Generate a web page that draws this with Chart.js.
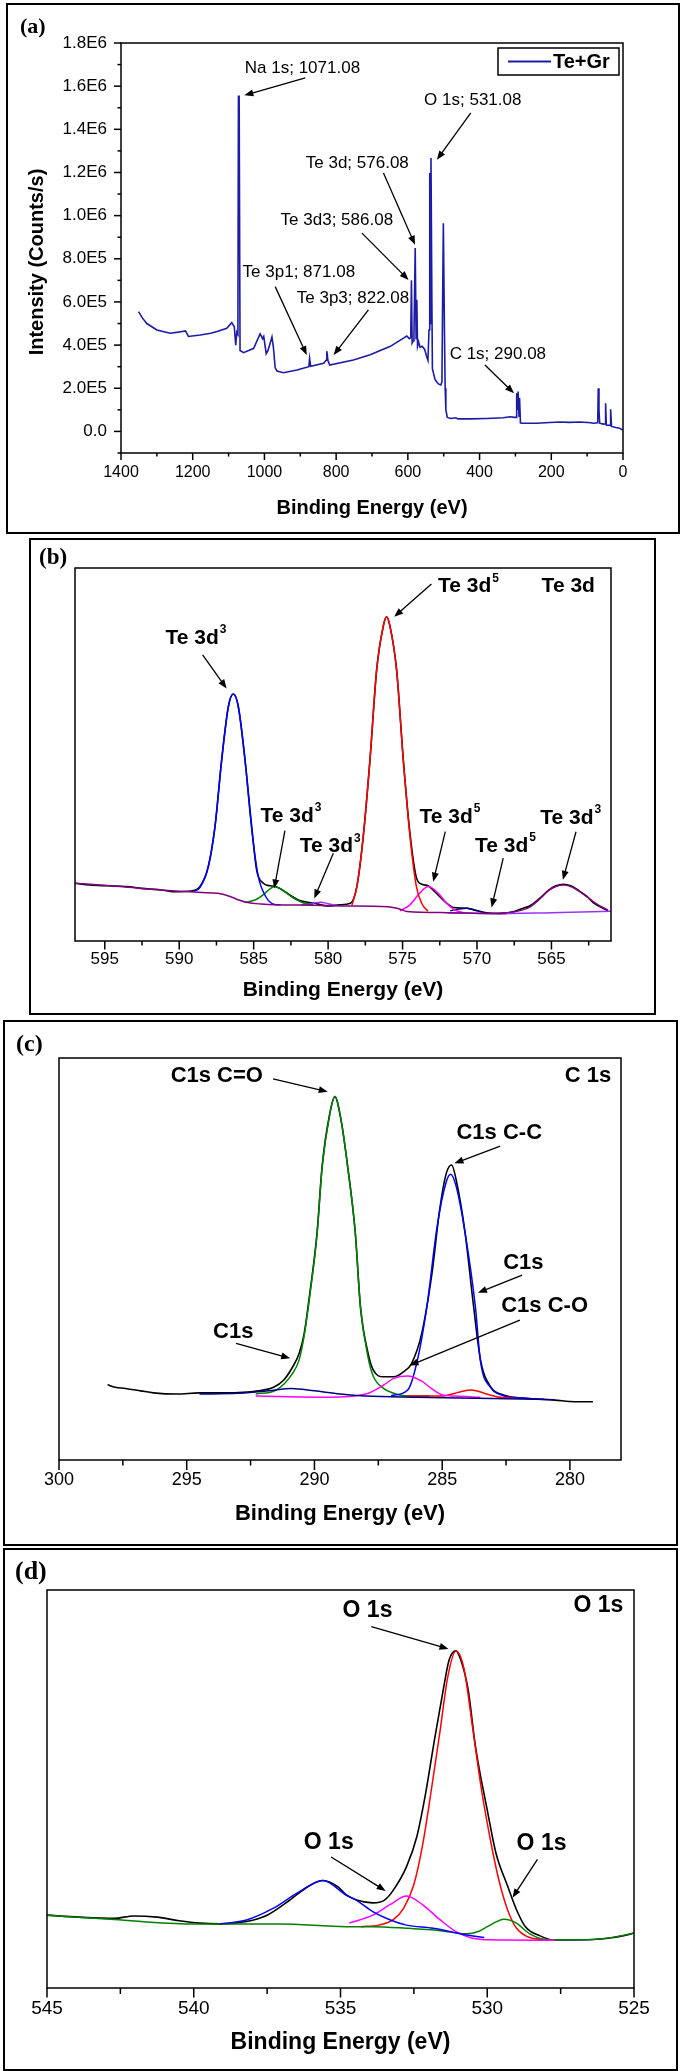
<!DOCTYPE html>
<html>
<head>
<meta charset="utf-8">
<script src="https://cdn.jsdelivr.net/npm/chart.js@4.4.1/dist/chart.umd.min.js"></script>
<style>
body { margin: 0; background: #fff; width: 681px; height: 2071px; position: relative; }
.box { position: absolute; box-sizing: border-box; border: 2px solid #000; }
.box canvas { position: absolute; left: -2px; top: -2px; }
</style>
</head>
<body>
<div class="box" style="left:6px;top:3px;width:674px;height:531px"><canvas id="chartA" width="674" height="531"></canvas></div>
<div class="box" style="left:29px;top:538px;width:627px;height:477px"><canvas id="chartB" width="627" height="477"></canvas></div>
<div class="box" style="left:3px;top:1020px;width:675px;height:526px"><canvas id="chartC" width="675" height="526"></canvas></div>
<div class="box" style="left:3px;top:1548px;width:675px;height:523px"><canvas id="chartD" width="675" height="523"></canvas></div>
<script>
// ---- data: [binding energy (eV), intensity] ----

// (a) survey spectrum, counts/s
const survey = [[1351,555000],[1340,525000],[1328,500000],[1300,470000],[1263,455000],[1240,460000],[1230,463000],[1220,466000],[1212,440000],[1179,447000],[1150,455000],[1132,463000],[1105,478000],[1091,504000],[1084,485000],[1080,400000],[1077,460000],[1074,450000],[1072.5,1553000],[1070.5,1553000],[1068,375000],[1058,365000],[1030,385000],[1012,452000],[1005,430000],[1002,440000],[995,360000],[990,375000],[979,437000],[975,390000],[970,295000],[965,280000],[947,272000],[909,285000],[882,297000],[876,300000],[874,338000],[871,302000],[835,316000],[828,330000],[826,372000],[823,330000],[818,308000],[752,331000],[705,355000],[677,375000],[650,393000],[612,432000],[603,442000],[596,430000],[592,435000],[590,700000],[588,410000],[585,420000],[583,440000],[579.5,850000],[577,430000],[575,610000],[573,395000],[570,415000],[566,390000],[560,395000],[553,380000],[548,350000],[544,330000],[541,470000],[539,1198000],[537.5,500000],[535.5,1267000],[533,600000],[531.5,290000],[524,240000],[515,220000],[508,215000],[505,230000],[503,610000],[501,965000],[499.5,965000],[498,470000],[496,200000],[494,100000],[490,65000],[480,60000],[466,63000],[460,58000],[426,58000],[380,60000],[334,63000],[315,68000],[302,65000],[298,65000],[296.5,177000],[294.5,100000],[292.5,185000],[290,70000],[288.5,155000],[286,40000],[282,38000],[241,38000],[204,41000],[176,44000],[150,42000],[120,44000],[90,40000],[83,38000],[70.5,40000],[69,200000],[67,100000],[65,38000],[55,34000],[50,35000],[48.5,130000],[46.5,30000],[36,28000],[34.5,103000],[32,23000],[20,18000],[10,15000],[3,8000],[0,10000]];
const surveyXTicks = [1400, 1200, 1000, 800, 600, 400, 200, 0];
const surveyYTicks = [0, 200000, 400000, 600000, 800000, 1000000, 1200000, 1400000, 1600000, 1800000];

// (b) Te 3d, arbitrary units
const teRaw = [[597,15.5],[596,15.0],[594.8,14.8],[593.5,14.6],[592.5,14.1],[591.4,13.8],[590.3,13.2],[589.2,13.4],[588.6,14.6],[588.05,19.9],[587.6,30.6],[587.15,48.5],[586.7,62.8],[586.37,66.2],[586.03,62.8],[585.58,48.5],[585.13,30.6],[584.8,19.0],[584.35,15.5],[583.9,14.8],[583.6,14.7],[583.2,14.0],[582.9,13.2],[582.0,11.0],[580.9,10.1],[580.0,9.4],[579.2,9.7],[578.5,10.1],[578.07,14.6],[577.64,28.0],[577.19,48.5],[576.74,72.7],[576.3,84.3],[576.07,86.9],[575.84,84.3],[575.4,72.7],[574.95,48.6],[574.5,28.8],[574.07,17.0],[573.7,15.2],[573.3,14.8],[572.9,13.5],[572.5,11.9],[572.0,10.0],[571.6,9.0],[570.7,8.8],[570.2,8.3],[569.8,7.9],[569.2,7.5],[568.5,7.4],[567.5,7.9],[566.9,8.8],[566.5,9.3],[565.8,11.4],[565.2,13.6],[564.7,14.8],[564.2,15.2],[563.7,14.8],[563.2,13.6],[562.6,11.9],[562.2,10.3],[561.2,8.1]];
const teBackground = [[597,15.5],[594,14.6],[591,13.6],[588.5,13.0],[587.4,12.8],[586.5,11.8],[586.0,11.0],[585.4,10.3],[584.5,9.9],[583.6,9.7],[581,9.6],[579,9.4],[576,9.2],[575.2,8.6],[574.7,7.9],[572,7.6],[569,7.4],[568,7.4]];
const teBackground2 = [[572,7.6],[569,7.3],[565,7.6],[561,8.0]];
const te3d3Main = [[589.0,13.3],[588.6,14.4],[588.05,19.9],[587.6,30.6],[587.15,48.5],[586.7,62.8],[586.37,66.2],[586.03,62.8],[585.58,48.5],[585.13,30.0],[584.7,17.5],[584.2,12.0],[583.6,9.8],[583.2,9.7]];
const te3d3Second = [[585.6,10.3],[584.8,11.2],[584.3,12.6],[583.9,14.0],[583.6,14.6],[583.2,14.0],[582.7,12.6],[582.2,11.2],[581.6,10.1],[581.0,9.7]];
const te3d3Third = [[581.8,9.7],[581.0,10.1],[580.5,10.4],[580.0,10.0],[579.4,9.5]];
const te3d5Main = [[578.4,9.6],[578.07,14.6],[577.64,28.0],[577.19,48.5],[576.74,72.7],[576.3,84.3],[576.07,86.9],[575.84,84.3],[575.4,72.7],[574.95,48.5],[574.5,28.0],[574.07,14.6],[573.7,10.0],[573.3,8.0]];
const te3d5Second = [[575.17,8.1],[574.5,9.7],[573.94,12.4],[573.27,14.6],[572.6,12.8],[572.04,10.1],[571.48,8.3],[570.9,7.6]];
const te3d5Third = [[571.8,8.1],[571.2,8.6],[570.7,8.8],[570.2,8.4],[569.6,7.7]];
const te3d3Low = [[568.5,7.4],[567.5,7.8],[566.5,9.0],[565.8,11.2],[565.2,13.5],[564.7,14.6],[564.2,15.0],[563.7,14.6],[563.2,13.5],[562.6,11.8],[562.0,10.0],[561.2,8.3]];
const teXTicks = [595, 590, 585, 580, 575, 570, 565];

// (c) C 1s, arbitrary units
const cRaw = [[298.1,18.7],[297.8,18.1],[297.4,17.8],[296.8,17.2],[296.3,16.7],[295.4,16.4],[294.5,16.7],[293.5,16.7],[292.2,17.2],[291.6,18.1],[291.2,19.9],[290.85,23.2],[290.6,26.5],[290.4,31.5],[290.2,40.6],[289.9,56.4],[289.7,73.0],[289.4,86.2],[289.2,90.4],[288.96,84.6],[288.7,73.0],[288.4,56.4],[288.2,38.1],[287.9,26.5],[287.7,22.4],[287.3,20.7],[286.9,20.7],[286.5,22.0],[286.2,24.0],[285.8,31.5],[285.4,46.4],[285.1,62.2],[284.84,71.3],[284.63,73.4],[284.45,69.6],[284.1,56.4],[283.8,39.8],[283.5,24.9],[283.1,18.2],[282.6,16.2],[281.6,15.3],[280.6,14.9],[279.8,14.5],[279.1,14.5]];
const cCO2 = [[292.3,16.4],[291.5,17.4],[290.85,21.6],[290.6,24.9],[290.4,31.0],[290.2,40.0],[289.9,56.0],[289.7,72.8],[289.4,86.0],[289.2,90.4],[288.96,84.6],[288.7,73.0],[288.4,56.4],[288.2,38.1],[287.9,25.5],[287.7,20.9],[287.3,17.8],[286.9,16.6],[286.35,15.9],[285.5,15.9]];
const cHigh = [[294.5,16.4],[293.0,16.6],[291.8,17.2],[290.9,17.8],[290.0,17.2],[289.0,16.4],[288.0,15.9],[286.0,15.6],[283.0,15.3],[280.6,15.0]];
const cCO = [[292.3,15.9],[289.5,15.6],[288.0,16.4],[287.3,18.6],[286.9,20.3],[286.35,20.9],[285.8,19.6],[285.4,17.7],[285.0,16.2],[284.5,15.9],[283.5,15.6]];
const cLow = [[286.4,15.9],[285.0,15.9],[284.5,16.6],[284.2,17.1],[283.9,17.4],[283.6,17.1],[283.3,16.5],[282.7,15.6],[282.2,15.4]];
const cCC = [[287.0,16.0],[286.35,17.4],[286.0,24.0],[285.6,38.1],[285.2,58.0],[284.84,69.2],[284.67,71.1],[284.45,68.0],[284.1,56.4],[283.7,38.1],[283.5,24.5],[283.1,18.0],[282.6,16.0],[281.9,15.4],[281.0,15.1]];
const cXTicks = [300, 295, 290, 285, 280];

// (d) O 1s, arbitrary units
const oRaw = [[545,18.3],[543.9,17.8],[542.7,17.5],[542.05,18.1],[541.25,17.8],[540.5,16.9],[539.8,16.3],[539.1,16.1],[538.2,16.7],[537.5,18.3],[536.8,21.7],[536.1,25.5],[535.6,27.0],[535.1,25.5],[534.8,23.4],[534.45,22.1],[533.9,21.4],[533.5,22.1],[533.2,24.6],[532.75,30.5],[532.4,38.0],[532.1,48.9],[531.8,62.3],[531.5,74.9],[531.3,82.4],[531.07,84.7],[530.9,82.4],[530.65,74.9],[530.4,60.6],[530.0,44.7],[529.7,33.8],[529.3,25.5],[529.0,19.6],[528.7,15.4],[528.2,13.1],[527.75,12.1],[527.1,12.1],[526.4,12.2],[525.7,12.7],[525.1,13.6],[525,13.8]];
const oMain = [[534.3,15.4],[533.7,15.8],[533.2,17.2],[532.85,20.0],[532.5,26.0],[532.2,36.0],[531.9,50.0],[531.6,65.0],[531.35,78.0],[531.07,84.7],[530.8,80.5],[530.5,65.5],[530.2,50.0],[529.9,37.5],[529.6,27.0],[529.3,19.5],[529.0,15.0],[528.6,12.8],[528.0,12.1]];
const oMid = [[534.7,16.3],[533.9,18.3],[533.3,21.0],[532.75,23.1],[532.2,20.9],[531.6,17.1],[531.05,14.1],[530.5,12.5],[529.9,12.1],[527.7,12.0]];
const oHigh = [[539.1,16.1],[538.2,17.1],[537.3,20.0],[536.4,24.2],[535.6,27.0],[534.8,23.3],[534.45,22.0],[533.9,19.2],[533.3,17.1],[532.75,15.8],[531.84,15.0],[530.7,13.3],[530.1,12.7]];
const oLow = [[545,18.3],[542.7,17.2],[540.1,16.1],[537.05,16.1],[534.8,15.4],[533.9,15.4],[532.75,15.0],[531.6,14.4],[530.7,13.6],[530.3,14.2],[530.0,15.4],[529.7,16.6],[529.45,17.3],[529.2,17.0],[529.0,16.3],[528.55,13.6],[527.9,12.1],[526.4,12.2],[525.1,13.6],[525,13.8]];
const oXTicks = [545, 540, 535, 530, 525];

// ---- peak labels, anchored in data units ----
const surveyNotes = [
  {text: 'Na 1s; 1071.08', x: 894, y: 1685000},
  {text: 'O 1s; 531.08', x: 419, y: 1533000},
  {text: 'Te 3d; 576.08', x: 741, y: 1241000},
  {text: 'Te 3d3; 586.08', x: 798, y: 976000},
  {text: 'Te 3p1; 871.08', x: 904, y: 739000},
  {text: 'Te 3p3; 822.08', x: 753, y: 619000},
  {text: 'C 1s; 290.08', x: 349, y: 359000}
];
const surveyArrows = [
  {from: [886, 1638000], to: [1056, 1558000]},
  {from: [424.5, 1476000], to: [519, 1259000]},
  {from: [668, 1198000], to: [580, 865000]},
  {from: [728, 919000], to: [598, 702000]},
  {from: [970, 671000], to: [882, 354000]},
  {from: [710, 563000], to: [807, 354000]},
  {from: [385, 308000], to: [304, 177000]}
];
const teNotes = [
  {text: 'Te 3d', sup: '3', x: 590.92, y: 81.3},
  {text: 'Te 3d', sup: '5', x: 572.62, y: 95.0},
  {text: 'Te 3d', x: 565.66, y: 95.0},
  {text: 'Te 3d', sup: '3', x: 584.54, y: 33.5},
  {text: 'Te 3d', sup: '3', x: 581.9, y: 25.3},
  {text: 'Te 3d', sup: '5', x: 573.86, y: 33.2},
  {text: 'Te 3d', sup: '5', x: 570.14, y: 25.5},
  {text: 'Te 3d', sup: '3', x: 565.75, y: 33.0}
];
const teArrows = [
  {from: [588.43, 76.7], to: [586.82, 67.7]},
  {from: [573.06, 95.7], to: [575.56, 86.9]},
  {from: [582.9, 29.6], to: [583.62, 14.1]},
  {from: [579.65, 23.5], to: [580.93, 11.4]},
  {from: [572.13, 29.3], to: [572.94, 15.9]},
  {from: [568.24, 22.2], to: [569.02, 9.0]},
  {from: [563.35, 29.3], to: [564.23, 16.4]}
];
const cNotes = [
  {text: 'C1s C=O', x: 295.63, y: 95.5},
  {text: 'C 1s', x: 280.2, y: 95.5},
  {text: 'C1s C-C', x: 284.44, y: 81.3},
  {text: 'C1s', x: 282.61, y: 49.0},
  {text: 'C1s C-O', x: 282.69, y: 38.4},
  {text: 'C1s', x: 293.97, y: 31.9}
];
const cArrows = [
  {from: [291.62, 94.8], to: [289.48, 91.6]},
  {from: [282.73, 78.1], to: [284.52, 73.8]},
  {from: [281.87, 46.0], to: [283.6, 41.6]},
  {from: [281.96, 34.8], to: [286.28, 23.5]},
  {from: [293.07, 29.0], to: [290.95, 25.3]}
];
const oNotes = [
  {text: 'O 1s', x: 534.93, y: 94.8},
  {text: 'O 1s', x: 527.06, y: 96.0},
  {text: 'O 1s', x: 536.25, y: 36.6},
  {text: 'O 1s', x: 529.0, y: 36.3}
];
const oArrows = [
  {from: [533.95, 90.8], to: [531.32, 85.2]},
  {from: [535.32, 32.9], to: [533.46, 24.4]},
  {from: [528.29, 32.3], to: [529.14, 22.7]}
];

Chart.defaults.font.family = '"Liberation Sans", Arial, sans-serif';
Chart.defaults.color = '#000';

const SANS = '"Liberation Sans", Arial, sans-serif';
const SERIF = '"Liberation Serif", "Times New Roman", serif';

function sci(v) {
  if (v === 0) return '0.0';
  const e = Math.floor(Math.log10(Math.abs(v)) + 1e-9);
  return (v / Math.pow(10, e)).toFixed(1) + 'E' + e;
}

function isMajor(v, m) {
  return Math.abs(v / m - Math.round(v / m)) < 1e-6;
}

function arrow(ctx, x1, y1, x2, y2) {
  const ang = Math.atan2(y2 - y1, x2 - x1), L = 9, W = 3.5;
  const c = Math.cos(ang), s = Math.sin(ang);
  ctx.beginPath();
  ctx.moveTo(x1, y1);
  ctx.lineTo(x2 - L * 0.8 * c, y2 - L * 0.8 * s);
  ctx.stroke();
  ctx.beginPath();
  ctx.moveTo(x2, y2);
  ctx.lineTo(x2 - L * c + W * s, y2 - L * s - W * c);
  ctx.lineTo(x2 - L * c - W * s, y2 - L * s + W * c);
  ctx.closePath();
  ctx.fill();
}

// frame, tick marks, peak labels, panel tag: drawn after the datasets
const deco = {};
const decoPlugin = {
  id: 'deco',
  afterDraw(chart) {
    const d = deco[chart.canvas.id];
    if (!d) return;
    const ctx = chart.ctx, a = chart.chartArea, xs = chart.scales.x, ys = chart.scales.y;
    ctx.save();
    ctx.strokeStyle = '#000';
    ctx.fillStyle = '#000';
    ctx.lineWidth = 1.5;
    ctx.strokeRect(a.left, a.top, a.right - a.left, a.bottom - a.top);

    // x tick marks, pointing down
    for (let v = Math.ceil(xs.min / d.xStep - 1e-9) * d.xStep; v <= xs.max + 1e-9; v += d.xStep) {
      const px = xs.getPixelForValue(v);
      const len = isMajor(v, d.xStep * 2) ? d.tickLen[0] : d.tickLen[1];
      ctx.beginPath();
      ctx.moveTo(px, a.bottom);
      ctx.lineTo(px, a.bottom + len);
      ctx.stroke();
    }
    // y tick marks, pointing left (survey only)
    if (d.yStep) {
      for (let v = Math.ceil(ys.min / d.yStep - 1e-9) * d.yStep; v <= ys.max + 1e-9; v += d.yStep) {
        const py = ys.getPixelForValue(v);
        const len = isMajor(v, d.yStep * 2) ? d.tickLen[0] : d.tickLen[1];
        ctx.beginPath();
        ctx.moveTo(a.left, py);
        ctx.lineTo(a.left - len, py);
        ctx.stroke();
      }
    }

    // arrows
    ctx.lineWidth = 1.3;
    d.arrows.forEach(r => {
      arrow(ctx, xs.getPixelForValue(r.from[0]), ys.getPixelForValue(r.from[1]),
        xs.getPixelForValue(r.to[0]), ys.getPixelForValue(r.to[1]));
    });

    // labels
    ctx.textBaseline = 'middle';
    ctx.textAlign = d.noteAlign;
    d.notes.forEach(n => {
      const px = xs.getPixelForValue(n.x), py = ys.getPixelForValue(n.y);
      ctx.font = d.noteFont;
      ctx.fillText(n.text, px, py);
      if (n.sup) {
        const w = ctx.measureText(n.text).width;
        ctx.font = d.supFont;
        ctx.fillText(n.sup, px + w + 1, py - 8);
      }
    });

    // panel tag
    ctx.textAlign = 'left';
    ctx.font = 'bold ' + d.tagSize + 'px ' + SERIF;
    ctx.fillText(d.tag, d.tagPos[0], d.tagPos[1]);

    // y title (survey)
    if (d.yTitle) {
      ctx.save();
      ctx.translate(a.left - 84, (a.top + a.bottom) / 2 + 14);
      ctx.rotate(-Math.PI / 2);
      ctx.textAlign = 'center';
      ctx.font = 'bold 20px ' + SANS;
      ctx.fillText(d.yTitle, 0, 0);
      ctx.restore();
    }

    // legend (survey)
    if (d.legend) {
      const bx = a.right - 125, by = a.top + 5;
      ctx.lineWidth = 1.5;
      ctx.strokeStyle = '#000';
      ctx.strokeRect(bx, by, 121, 27);
      ctx.strokeStyle = d.legend.color;
      ctx.lineWidth = 2;
      ctx.beginPath();
      ctx.moveTo(bx + 10, by + 13.5);
      ctx.lineTo(bx + 53, by + 13.5);
      ctx.stroke();
      ctx.font = 'bold 20px ' + SANS;
      ctx.textAlign = 'left';
      ctx.fillText(d.legend.text, bx + 55, by + 14.5);
    }
    ctx.restore();
  }
};

function makeChart(id, p) {
  deco[id] = p;
  const datasets = p.series.map(s => ({
    data: s.pts.map(q => ({x: q[0], y: q[1]})),
    borderColor: s.color,
    borderWidth: s.width || 1.5,
    pointRadius: 0,
    fill: false,
    tension: 0,
    cubicInterpolationMode: p.smooth ? 'monotone' : 'default',
    order: s.under ? 1 : 0
  }));
  return new Chart(document.getElementById(id), {
    type: 'line',
    data: {datasets: datasets},
    options: {
      animation: false,
      responsive: false,
      events: [],
      layout: {padding: p.pad},
      plugins: {legend: {display: false}, tooltip: {enabled: false}},
      scales: {
        x: {
          type: 'linear',
          reverse: true,
          min: p.xMin,
          max: p.xMax,
          afterBuildTicks: s => { s.ticks = p.xTicks.map(v => ({value: v})); },
          afterFit: s => { s.height = p.xH; },
          grid: {display: false, drawTicks: false},
          border: {display: false},
          ticks: {padding: p.xPad, autoSkip: false, maxRotation: 0, font: {size: p.xFont}, callback: v => String(v)},
          title: {display: true, text: 'Binding Energy (eV)', font: {size: p.titleSize, weight: 'bold'}, padding: {top: 0, bottom: p.titlePad}}
        },
        y: p.yTicks ? {
          min: p.yMin,
          max: p.yMax,
          afterBuildTicks: s => { s.ticks = p.yTicks.map(v => ({value: v})); },
          afterFit: s => { s.width = p.yW; },
          grid: {display: false, drawTicks: false},
          border: {display: false},
          ticks: {padding: 14, autoSkip: false, font: {size: 17}, callback: v => sci(v)}
        } : {display: false, min: 0, max: 100}
      }
    },
    plugins: [decoPlugin]
  });
}

makeChart('chartA', {
  series: [{pts: survey, color: '#1c1ca6', width: 1.6}],
  smooth: false,
  pad: {left: 0, top: 40, right: 57, bottom: 0},
  xMin: 0, xMax: 1400, xTicks: surveyXTicks, xStep: 100,
  xH: 81, xPad: 10, xFont: 16, titleSize: 20, titlePad: 14,
  yMin: -100000, yMax: 1800000, yTicks: surveyYTicks, yStep: 100000, yW: 115,
  tickLen: [7, 3.5],
  notes: surveyNotes, arrows: surveyArrows,
  noteFont: '17px ' + SANS, noteAlign: 'center', supFont: '12px ' + SANS,
  tag: '(a)', tagSize: 22, tagPos: [14, 24],
  yTitle: 'Intensity (Counts/s)',
  legend: {text: 'Te+Gr', color: '#1c1ca6'}
});

makeChart('chartB', {
  series: [
    {pts: teRaw, color: '#000000', width: 1.6, under: true},
    {pts: teBackground, color: '#800080'},
    {pts: teBackground2, color: '#9933ff'},
    {pts: te3d3Main, color: '#0000ff'},
    {pts: te3d3Second, color: '#008000'},
    {pts: te3d3Third, color: '#9933ff'},
    {pts: te3d5Main, color: '#ff0000'},
    {pts: te3d5Second, color: '#ff00ff'},
    {pts: te3d5Third, color: '#000080'},
    {pts: te3d3Low, color: '#800080'}
  ],
  smooth: true,
  pad: {left: 46, top: 30, right: 45, bottom: 0},
  xMin: 561, xMax: 597, xTicks: teXTicks, xStep: 2.5,
  xH: 74, xPad: 8, xFont: 17, titleSize: 21, titlePad: 12,
  tickLen: [8.5, 4.5],
  notes: teNotes, arrows: teArrows,
  noteFont: 'bold 21px ' + SANS, noteAlign: 'left', supFont: 'bold 12px ' + SANS,
  tag: '(b)', tagSize: 23, tagPos: [10, 20]
});

makeChart('chartC', {
  series: [
    {pts: cRaw, color: '#000000', width: 1.6, under: true},
    {pts: cHigh, color: '#000080'},
    {pts: cCO, color: '#ff00ff'},
    {pts: cLow, color: '#ff0000'},
    {pts: cCC, color: '#0000ff'},
    {pts: cCO2, color: '#008000'}
  ],
  smooth: true,
  pad: {left: 56, top: 38, right: 57, bottom: 0},
  xMin: 278, xMax: 300, xTicks: cXTicks, xStep: 2.5,
  xH: 86, xPad: 9, xFont: 18, titleSize: 22, titlePad: 19,
  tickLen: [10, 5.5],
  notes: cNotes, arrows: cArrows,
  noteFont: 'bold 22px ' + SANS, noteAlign: 'left', supFont: 'bold 12px ' + SANS,
  tag: '(c)', tagSize: 24, tagPos: [13, 25]
});

makeChart('chartD', {
  series: [
    {pts: oRaw, color: '#000000', width: 1.6, under: true},
    {pts: oHigh, color: '#0000ff'},
    {pts: oMid, color: '#ff00ff'},
    {pts: oLow, color: '#008000'},
    {pts: oMain, color: '#ff0000'}
  ],
  smooth: true,
  pad: {left: 44, top: 42, right: 44, bottom: 0},
  xMin: 525, xMax: 545, xTicks: oXTicks, xStep: 2.5,
  xH: 83, xPad: 9, xFont: 19, titleSize: 23, titlePad: 15,
  tickLen: [9.5, 6],
  notes: oNotes, arrows: oArrows,
  noteFont: 'bold 23px ' + SANS, noteAlign: 'left', supFont: 'bold 12px ' + SANS,
  tag: '(d)', tagSize: 26, tagPos: [12, 24]
});
</script>
</body>
</html>
